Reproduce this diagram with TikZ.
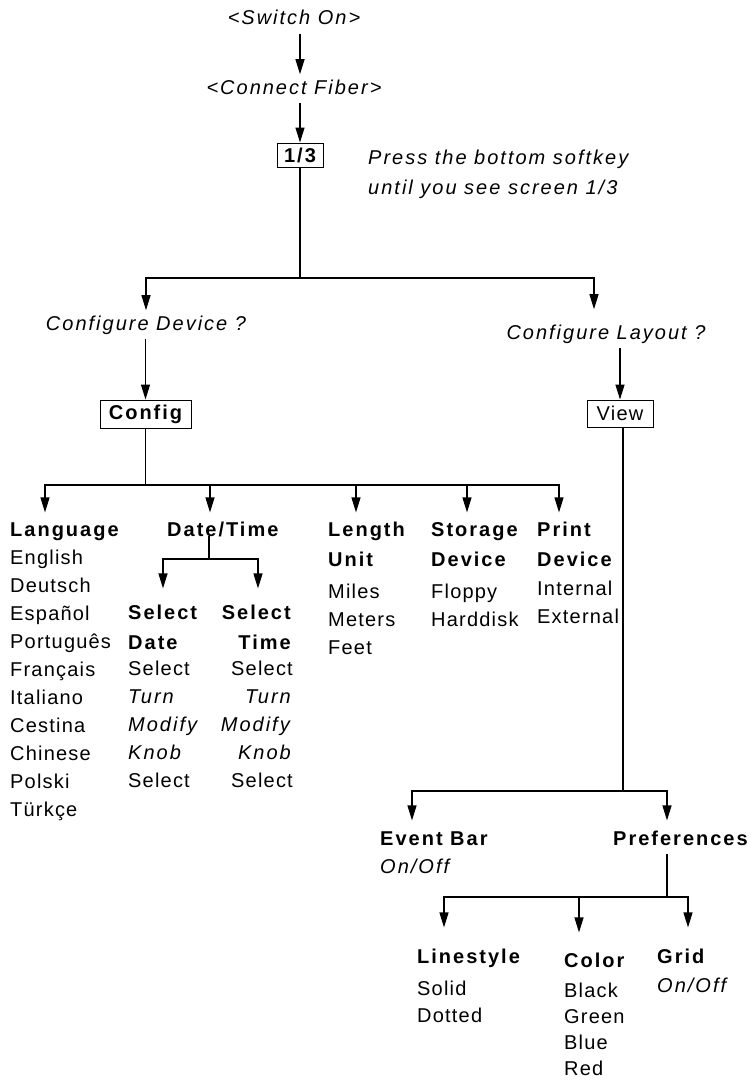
\documentclass[tikz,border=0pt]{standalone}
\usepackage{fontspec}
\setmainfont{Liberation Sans}[LetterSpace=6,
  BoldFeatures={LetterSpace=10}, ItalicFeatures={LetterSpace=10}]
\usetikzlibrary{arrows.meta,positioning}
\tikzset{
  txt/.style={inner sep=0pt, font=\fontsize{20}{28}\selectfont,
    execute at begin node=\strut},
  itxt/.style={txt, font=\itshape\fontsize{20}{28}\selectfont},
  btxt/.style={txt, font=\bfseries\fontsize{20}{28}\selectfont},
  listcol/.style={txt, align=left, anchor=north west},
  keybox/.style={rectangle, draw=black, line width=1pt, inner sep=2pt,
    font=\fontsize{20}{24}\selectfont},
  link/.style={draw=black, line width=1.2pt},
  arr/.style={link, -{Triangle[length=15pt,width=9pt]}},
}

\begin{document}
\begin{tikzpicture}[x=1pt, y=-1pt]
  \useasboundingbox (0,0) rectangle (755,1081);

  % Start-up chain
  \node[itxt, anchor=base] (switchon) at (294,25) {<Switch On>};
  \node[itxt, anchor=base] (fiber) at (294,94) {<Connect Fiber>};
  \node[keybox, font=\bfseries\fontsize{20}{24}\selectfont,
    minimum width=46pt, minimum height=24pt] (screen) at (300,155) {1/3};
  \node[listcol, font=\itshape\fontsize{20}{30}\selectfont] (hint) at (368,143)
    {\strut Press the bottom softkey\\until you see screen 1/3};

  % Second level
  \node[itxt, anchor=base] (cfgdev) at (146,330) {Configure Device ?};
  \node[itxt, anchor=base] (cfglay) at (606,339) {Configure Layout ?};
  \node[keybox, font=\bfseries\fontsize{20}{24}\selectfont,
    minimum width=91pt, minimum height=28pt] (config) at (145.5,414) {Config};
  \node[keybox, minimum width=66pt, minimum height=27pt] (view) at (620,413.5) {View};

  % Config entries
  \node[listcol] (lang) at (10,516.4)
    {\strut\textbf{Language}\\English\\Deutsch\\Español\\Português\\Français\\Italiano\\Cestina\\Chinese\\Polski\\Türkçe};
  \node[btxt, anchor=north west] (datetime) at (167,516.4) {Date/Time};
  \node[listcol] (lenunit) at (328,516.4)
    {\strut\textbf{Length}\\[2pt]\textbf{Unit}\\[4pt]Miles\\Meters\\Feet};
  \node[listcol] (storage) at (431,516.4)
    {\strut\textbf{Storage}\\[2pt]\textbf{Device}\\[4pt]Floppy\\Harddisk};
  \node[listcol] (printdev) at (537,516.4)
    {\strut\textbf{Print}\\[2pt]\textbf{Device}\\[1pt]Internal\\External};
  \node[listcol] (seldate) at (128,599.4)
    {\strut\textbf{Select}\\[2pt]\textbf{Date}\\[-2pt]Select\\\textit{Turn}\\\textit{Modify}\\\textit{Knob}\\Select};
  \node[listcol, align=right, anchor=north east] (seltime) at (293,599.4)
    {\strut\textbf{Select}\\[2pt]\textbf{Time}\\[-2pt]Select\\\textit{Turn}\\\textit{Modify}\\\textit{Knob}\\Select};

  % View entries
  \node[listcol] (eventbar) at (380,825.4) {\strut\textbf{Event Bar}\\\textit{On/Off}};
  \node[btxt, anchor=north west] (prefs) at (613,825.4) {Preferences};
  \node[listcol] (linestyle) at (417,943.4)
    {\strut\textbf{Linestyle}\\[4pt]Solid\\[-1pt]Dotted};
  \node[listcol] (color) at (564,947.4)
    {\strut\textbf{Color}\\[2pt]Black\\[-2pt]Green\\[-2pt]Blue\\[-2pt]Red};
  \node[listcol] (grid) at (657,943.4) {\strut\textbf{Grid}\\[1pt]\textit{On/Off}};

  % Arrows: start-up
  \draw[arr] (switchon.south -| screen) -- (fiber.north -| screen);
  \draw[arr] (fiber.south -| screen) -- (screen);
  \coordinate (topsplit) at (300,278);
  \draw[link] (screen) -- (topsplit);
  \draw[arr] (topsplit) -| (cfgdev);
  \draw[arr] (topsplit) -| ([xshift=-12pt,yshift=10pt]cfglay.north);
  \draw[arr] (cfgdev.south -| config) -- (config);
  \draw[arr] (cfglay.south -| view) -- (view);

  % Arrows: config
  \coordinate (cfgbus) at (145.5,485);
  \draw[link] (config) -- (cfgbus);
  \draw[arr] (cfgbus) -| ([xshift=35pt,yshift=4pt]lang.north west);
  \draw[arr] (cfgbus) -| ([xshift=43pt,yshift=4pt]datetime.north west);
  \draw[arr] (cfgbus) -| ([xshift=28pt,yshift=4pt]lenunit.north west);
  \draw[arr] (cfgbus) -| ([xshift=36pt,yshift=4pt]storage.north west);
  \draw[arr] (cfgbus) -| ([xshift=22pt,yshift=4pt]printdev.north west);
  \coordinate (dtbus) at (209,559);
  \draw[link] (datetime.base -| dtbus) -- (dtbus);
  \draw[arr] (dtbus) -| ([xshift=35pt,yshift=11pt]seldate.north west);
  \draw[arr] (dtbus) -| ([xshift=-35pt,yshift=11pt]seltime.north east);

  % Arrows: view
  \coordinate (laybus) at (623,791);
  \draw[link] (view.south -| laybus) -- (laybus);
  \draw[arr] (laybus) -| ([xshift=32pt,yshift=5pt]eventbar.north west);
  \draw[arr] (laybus) -| ([xshift=54pt,yshift=5pt]prefs.north west);
  \coordinate (prefbus) at (667,897);
  \draw[link] (prefs.south -| prefbus) -- (prefbus);
  \draw[arr] (prefbus) -| ([xshift=27pt,yshift=16pt]linestyle.north west);
  \draw[arr] (prefbus) -| ([xshift=15pt,yshift=15pt]color.north west);
  \draw[arr] (prefbus) -| ([xshift=31pt,yshift=16pt]grid.north west);

\end{tikzpicture}
\end{document}
